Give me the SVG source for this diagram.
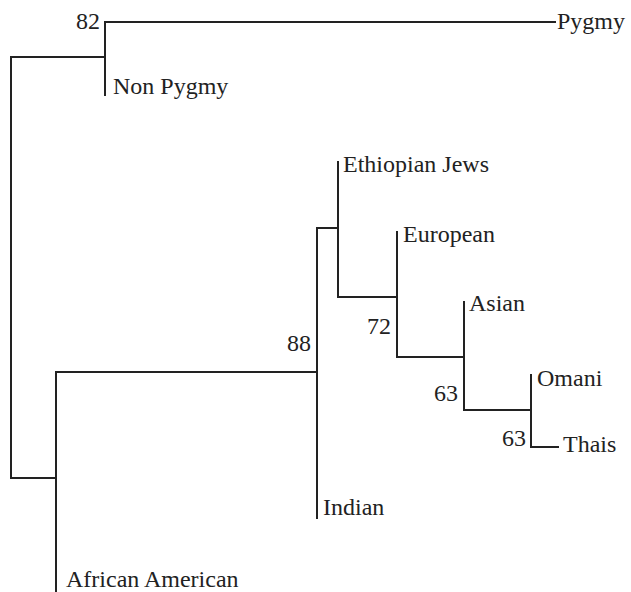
<svg xmlns="http://www.w3.org/2000/svg" width="631" height="592" viewBox="0 0 631 592">
<style>
.e{stroke:#222;stroke-width:2;fill:none;stroke-linecap:square}
text{font-family:"Liberation Serif","Times New Roman",serif;font-size:24px;fill:#222}
.b{text-anchor:end}
</style>
<rect width="631" height="592" fill="#fff"/>
<g id="connectors">
<path class="e" d="M11,57V478 M11,57H105 M11,478H56"/>
<path class="e" d="M105,22V95 M105,22H555"/>
<path class="e" d="M56,372V592 M56,372H317"/>
<path class="e" d="M317,228V518 M317,228H338"/>
<path class="e" d="M338,162V297 M338,297H397"/>
<path class="e" d="M397,232V357 M397,357H464"/>
<path class="e" d="M464,302V410 M466,410H531"/>
<path class="e" d="M531,375V447 M531,447H558"/>
</g>
<g id="Pygmy"><text x="557" y="29">Pygmy</text></g>
<g id="NonPygmy"><text x="113" y="94">Non Pygmy</text></g>
<g id="EthiopianJews"><text x="343" y="172">Ethiopian Jews</text></g>
<g id="European"><text x="403" y="242">European</text></g>
<g id="Asian"><text x="469" y="311">Asian</text></g>
<g id="Omani"><text x="537" y="386">Omani</text></g>
<g id="Thais"><text x="563" y="452">Thais</text></g>
<g id="Indian"><text x="323" y="515">Indian</text></g>
<g id="AfricanAmerican"><text x="66" y="587">African American</text></g>
<g id="bootstrap">
<text class="b" x="100" y="29">82</text>
<text class="b" x="311" y="351">88</text>
<text class="b" x="391" y="334">72</text>
<text class="b" x="458" y="401">63</text>
<text class="b" x="526" y="446">63</text>
</g>
</svg>
